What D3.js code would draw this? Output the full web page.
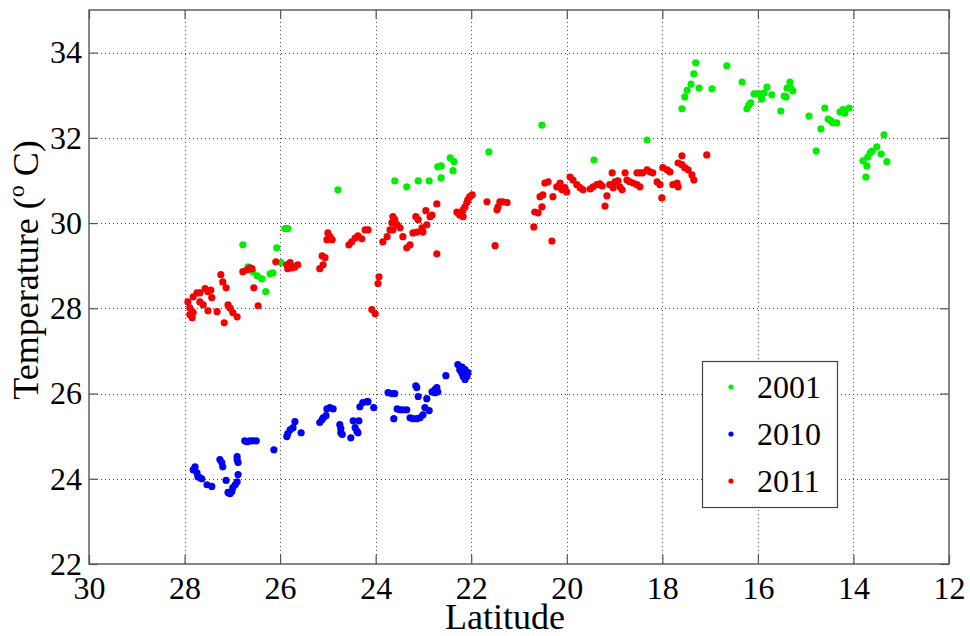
<!DOCTYPE html>
<html>
<head>
<meta charset="utf-8">
<script src="https://cdn.jsdelivr.net/npm/d3@7"></script>
<style>
  html, body { margin: 0; padding: 0; background: #fff; }
  svg { display: block; }
</style>
</head>
<body>
<svg id="chart" width="970" height="636"></svg>
<script>
// Surface temperature along latitude for three cruise years
const legendLabels = ["2001", "2010", "2011"];
const xTicks = [30, 28, 26, 24, 22, 20, 18, 16, 14, 12];
const yTicks = [22, 24, 26, 28, 30, 32, 34];

const lat2001 = [24.79, 26.78, 26.07, 25.90, 25.84, 26.67, 26.57, 26.48, 26.38, 26.30, 26.21, 26.15, 25.98,
  23.60, 23.35, 23.11, 22.88, 22.63, 22.70, 22.63, 22.44, 22.36, 22.38, 21.63, 20.52, 19.43, 18.32,
  17.59, 17.53, 17.48, 17.40, 17.34, 17.30, 17.23, 16.96, 16.65, 16.33, 16.23, 16.19, 16.15, 16.08,
  16.02, 15.96, 15.92, 15.87, 15.81, 15.71, 15.52, 15.45, 15.41, 15.39, 15.33, 15.31, 15.27, 14.93,
  14.78, 14.68, 14.60, 14.53, 14.47, 14.43, 14.35, 14.28, 14.22, 14.18, 14.09, 13.80, 13.74, 13.72,
  13.70, 13.65, 13.61, 13.51, 13.42, 13.36, 13.30];
const temp2001 = [30.78, 29.49, 29.42, 29.87, 29.87, 28.97, 28.86, 28.76, 28.69, 28.39, 28.81, 28.83, 29.07,
  30.99, 30.85, 30.99, 30.99, 31.06, 31.32, 31.34, 31.53, 31.44, 31.23, 31.67, 32.30, 31.48, 31.95,
  32.68, 32.96, 33.12, 33.26, 33.50, 33.76, 33.17, 33.15, 33.69, 33.31, 32.68, 32.77, 32.82, 33.03,
  33.03, 33.03, 32.91, 33.05, 33.19, 33.01, 32.63, 32.98, 32.96, 33.17, 33.31, 33.17, 33.10, 32.51,
  31.69, 32.21, 32.70, 32.44, 32.40, 32.35, 32.35, 32.61, 32.66, 32.58, 32.70, 31.46, 31.08, 31.34,
  31.55, 31.65, 31.69, 31.79, 31.62, 32.07, 31.44];

const lat2010 = [27.78, 27.82, 27.74, 27.72, 27.68, 27.64, 27.53, 27.43, 27.26, 27.22, 27.20, 27.13, 27.09,
  27.05, 27.01, 26.99, 26.94, 26.90, 26.88, 26.90, 26.90, 26.88, 26.74, 26.69, 26.63, 26.57, 26.50,
  26.13, 25.86, 25.84, 25.79, 25.73, 25.69, 25.56, 25.17, 25.12, 25.10, 25.04, 25.02, 24.96, 24.89,
  24.75, 24.73, 24.73, 24.70, 24.52, 24.47, 24.35, 24.43, 24.39, 24.37, 24.33, 24.27, 24.18, 24.16,
  24.04, 23.74, 23.66, 23.60, 23.62, 23.55, 23.49, 23.43, 23.35, 23.16, 23.14, 23.11, 23.28, 23.22,
  23.14, 23.07, 23.01, 22.97, 22.93, 22.88, 22.82, 22.76, 22.72, 22.70, 22.76, 22.53, 22.28, 22.24,
  22.20, 22.17, 22.13, 22.09, 22.07, 22.13, 22.19, 22.11];
const temp2010 = [24.28, 24.21, 24.14, 24.05, 24.03, 24.00, 23.86, 23.82, 24.45, 24.38, 24.28, 23.96, 23.68,
  23.65, 23.70, 23.79, 23.86, 23.93, 24.10, 24.52, 24.45, 24.38, 24.89, 24.87, 24.89, 24.89, 24.89,
  24.68, 24.99, 25.06, 25.15, 25.20, 25.34, 25.08, 25.32, 25.39, 25.43, 25.48, 25.64, 25.67, 25.64,
  25.27, 25.18, 25.08, 25.04, 24.96, 25.36, 25.36, 25.20, 25.11, 25.08, 25.69, 25.79, 25.81, 25.81,
  25.67, 26.02, 26.00, 26.00, 25.41, 25.64, 25.62, 25.62, 25.62, 26.18, 26.14, 25.93, 25.43, 25.41,
  25.41, 25.43, 25.50, 25.67, 25.88, 25.60, 26.04, 26.09, 26.14, 26.04, 26.02, 26.42, 26.68, 26.56,
  26.49, 26.40, 26.33, 26.40, 26.49, 26.56, 26.62, 26.45];

const lat2011 = [27.93, 27.89, 27.84, 27.89, 27.82, 27.84, 27.82, 27.74, 27.68, 27.68, 27.57, 27.51, 27.45,
  27.61, 27.51, 27.43, 27.32, 27.24, 27.20, 27.13, 27.17, 27.09, 27.05, 26.99, 26.90, 26.78, 26.69,
  26.63, 26.59, 26.55, 26.46, 26.09, 25.86, 25.84, 25.75, 25.69, 25.63, 25.79, 25.17, 25.10, 25.12,
  25.06, 25.00, 24.96, 24.91, 25.02, 24.56, 24.50, 24.43, 24.37, 24.29, 24.22, 24.16, 24.08, 24.01,
  23.95, 23.93,
  23.85, 23.76, 23.70, 23.64, 23.60, 23.64, 23.66, 23.55, 23.49, 23.43, 23.35, 23.28, 23.22, 23.14,
  23.16, 23.11, 23.03, 23.01, 22.93, 22.86, 22.82, 22.95, 22.72, 22.72, 22.30, 22.28, 22.19, 22.17,
  22.13, 22.09, 22.07, 22.03, 21.98, 22.24, 22.17, 21.67, 21.50, 21.46, 21.44, 21.40, 21.34, 21.25,
  20.69, 20.67, 20.60, 20.52, 20.56, 20.50, 20.46, 20.39, 20.31, 20.29, 20.21, 20.14, 20.10, 20.04,
  20.00, 19.93, 19.87, 19.79, 19.72,
  19.66, 19.51, 19.45, 19.37, 19.31, 19.26, 19.20, 19.16, 19.10, 19.05, 19.03, 18.99, 18.93, 18.89,
  18.84, 18.78, 18.74, 18.68, 18.61, 18.53, 18.53, 18.47, 18.41, 18.32, 18.26, 18.20, 18.11, 18.05,
  18.01, 17.99, 17.90, 17.84, 17.78, 17.69, 17.67, 17.67, 17.59, 17.53, 17.46, 17.38, 17.34, 17.59,
  17.07, 18.47, 20.14];
const temp2011 = [28.15, 28.01, 27.92, 27.85, 27.90, 27.78, 28.27, 28.36, 28.36, 28.15, 28.46, 28.39, 28.43,
  28.08, 27.94, 28.25, 27.92, 28.79, 28.62, 28.48, 27.66, 28.08, 28.01, 27.90, 27.80, 28.86, 28.90,
  28.95, 28.93, 28.48, 28.06, 29.09, 29.02, 28.93, 28.95, 28.97, 29.02, 29.07, 28.93, 29.02, 29.23,
  29.19, 29.77, 29.68, 29.61, 29.61, 29.49, 29.56, 29.65, 29.70, 29.63, 29.84, 29.84, 27.97, 27.87,
  28.58, 28.74,
  29.56, 29.68, 29.84, 29.84, 30.08, 30.15, 30.01, 29.96, 29.89, 29.68, 29.42, 29.49, 29.77, 29.79,
  30.15, 30.08, 29.89, 29.79, 29.96, 30.15, 30.19, 30.29, 30.45, 29.28, 30.26, 30.24, 30.26, 30.31,
  30.38, 30.48, 30.55, 30.62, 30.66, 30.19, 30.15, 30.50, 29.47, 30.31, 30.38, 30.50, 30.50, 30.48,
  29.91, 30.26, 30.24, 30.38, 30.62, 30.66, 30.94, 30.97, 29.58, 30.62, 30.85, 30.94, 30.78, 30.83,
  30.73, 31.08, 31.01, 30.90, 30.83,
  30.78, 30.80, 30.85, 30.90, 30.92, 30.87, 30.40, 30.64, 30.90, 31.18, 30.83, 30.97, 30.99, 30.85,
  30.78, 31.18, 31.01, 30.97, 30.94, 30.90, 31.18, 31.18, 31.18, 31.25, 31.20, 31.18, 30.97, 30.90,
  30.59, 31.30, 31.25, 31.20, 30.90, 30.94, 30.85, 31.41, 31.37, 31.30, 31.25, 31.13, 31.01, 31.58,
  31.60, 30.85, 30.85];

const seriesColors = ["#00ee00", "#0000f5", "#f50000"];
const series = [
  { name: legendLabels[0], lat: lat2001, temp: temp2001, color: seriesColors[0] },
  { name: legendLabels[1], lat: lat2010, temp: temp2010, color: seriesColors[1] },
  { name: legendLabels[2], lat: lat2011, temp: temp2011, color: seriesColors[2] }
];

const serif = "'Liberation Serif', 'Times New Roman', Times, serif";
const svg = d3.select("#chart");
svg.append("rect").attr("width", 970).attr("height", 636).attr("fill", "#fff");

const plotL = 89, plotR = 949, plotT = 10, plotB = 564;
const x = d3.scaleLinear().domain([30, 12]).range([plotL, plotR]);
const y = d3.scaleLinear().domain([22, 35]).range([plotB, plotT]);

// dotted grid
const grid = svg.append("g").attr("stroke", "#444").attr("stroke-width", 1)
  .attr("stroke-dasharray", "1,3").attr("fill", "none");
grid.selectAll("line.gx").data(xTicks.filter(t => t !== 30 && t !== 12)).join("line")
  .attr("class", "gx")
  .attr("x1", d => Math.round(x(d)) + 0.5).attr("x2", d => Math.round(x(d)) + 0.5)
  .attr("y1", plotT).attr("y2", plotB);
grid.selectAll("line.gy").data(yTicks.filter(t => t !== 22)).join("line")
  .attr("class", "gy")
  .attr("y1", d => Math.round(y(d)) + 0.5).attr("y2", d => Math.round(y(d)) + 0.5)
  .attr("x1", plotL).attr("x2", plotR);

// data points, drawn in legend order
const pts = svg.append("g");
series.forEach(s => {
  pts.append("g").attr("fill", s.color)
    .selectAll("circle").data(s.lat.map((v, i) => [v, s.temp[i]])).join("circle")
    .attr("cx", d => x(d[0])).attr("cy", d => y(d[1])).attr("r", 3.6);
});

// axes with inward ticks on all four sides
const tickLen = 9;
const tickFont = 32;
const labelFont = 36;
const axB = svg.append("g").attr("transform", `translate(0,${plotB})`)
  .call(d3.axisBottom(x).tickValues(xTicks).tickSize(-tickLen).tickSizeOuter(0).tickPadding(12).tickFormat(d3.format("d")));
const axL = svg.append("g").attr("transform", `translate(${plotL},0)`)
  .call(d3.axisLeft(y).tickValues(yTicks).tickSize(-tickLen).tickSizeOuter(0).tickPadding(7).tickFormat(d3.format("d")));
const axT = svg.append("g").attr("transform", `translate(0,${plotT})`)
  .call(d3.axisTop(x).tickValues(xTicks).tickSize(-tickLen).tickSizeOuter(0).tickFormat(""));
const axR = svg.append("g").attr("transform", `translate(${plotR},0)`)
  .call(d3.axisRight(y).tickValues(yTicks).tickSize(-tickLen).tickSizeOuter(0).tickFormat(""));
[axB, axL, axT, axR].forEach(a => {
  a.select(".domain").remove();
  a.selectAll(".tick line").attr("stroke", "#555").attr("stroke-width", 1.2);
  a.selectAll(".tick text").style("font-family", serif).style("font-size", tickFont + "px").attr("fill", "#000");
});

// axes box
svg.append("rect").attr("x", plotL).attr("y", plotT).attr("width", plotR - plotL).attr("height", plotB - plotT)
  .attr("fill", "none").attr("stroke", "#555").attr("stroke-width", 1.4);

// axis titles
svg.append("text").attr("x", 505).attr("y", 629).attr("text-anchor", "middle")
  .style("font-family", serif).style("font-size", labelFont + "px").text("Latitude");
const yl = svg.append("text").attr("transform", "translate(38,270) rotate(-90)")
  .attr("text-anchor", "middle").style("font-family", serif).style("font-size", labelFont + "px");
yl.append("tspan").text("Temperature (");
yl.append("tspan").style("font-size", "24px").attr("dy", -14).text("o");
yl.append("tspan").attr("dy", 14).text(" C)");

// legend
const lg = svg.append("g");
lg.append("rect").attr("x", 702.5).attr("y", 361.5).attr("width", 135).attr("height", 146)
  .attr("fill", "#fff").attr("stroke", "#444").attr("stroke-width", 1.2);
const rowY = [387, 434, 481];
series.forEach((s, i) => {
  lg.append("circle").attr("cx", 731).attr("cy", rowY[i]).attr("r", 2.6).attr("fill", s.color);
  lg.append("text").attr("x", 757).attr("y", rowY[i] + 11)
    .style("font-family", serif).style("font-size", tickFont + "px").text(s.name);
});
</script>
</body>
</html>
